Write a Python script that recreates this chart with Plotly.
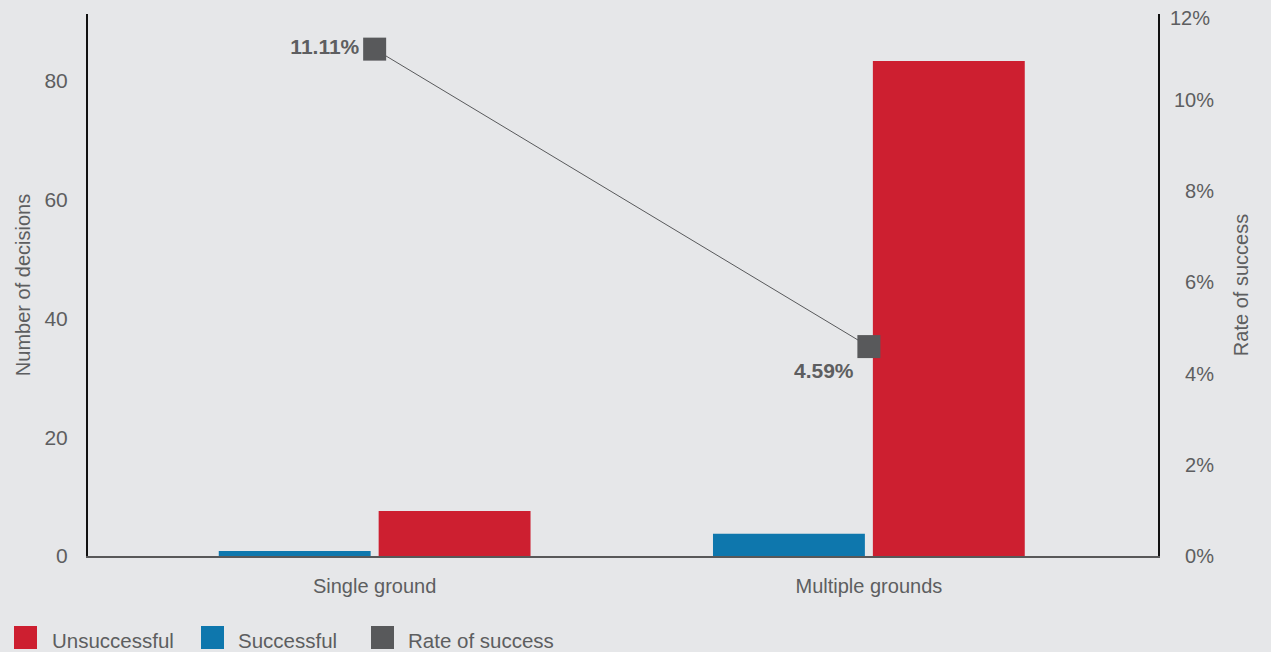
import plotly.graph_objects as go

# ---- data ----
categories = ["Single ground", "Multiple grounds"]
successful = [0.85, 3.75]
unsuccessful = [7.6, 83.4]
rate_of_success = [0.1111, 0.0459]
rate_labels = ["11.11%", "4.59%"]
left_ticks = [0, 20, 40, 60, 80]
right_ticks = [0, 0.02, 0.04, 0.06, 0.08, 0.10]
right_tick_text = ["\u20070%", "\u20072%", "\u20074%", "\u20076%", "\u20078%", "10%"]
legend_names = ["Unsuccessful", "Successful", "Rate of success"]

RED = "#CD1F30"
BLUE = "#0E77AD"
GREY = "#58595B"
BG = "#E6E7E9"
TXT = "#5D5E60"
FONT = "Liberation Sans, Arial, sans-serif"

W, H = 1271, 652
L, R, T, B = 88, 1158, 14, 556


def px(x):
    return (x - L) / (R - L)


def py(y):
    return (B - y) / (B - T)


fig = go.Figure()
fig.add_trace(go.Bar(x=categories, y=successful, name="Successful",
                     marker=dict(color=BLUE, line=dict(width=0)), showlegend=False))
fig.add_trace(go.Bar(x=categories, y=unsuccessful, name="Unsuccessful",
                     marker=dict(color=RED, line=dict(width=0)), showlegend=False))
fig.add_trace(go.Scatter(x=categories, y=rate_of_success, name="Rate of success",
                         yaxis="y2", mode="lines+markers+text",
                         line=dict(color=GREY, width=1),
                         marker=dict(symbol="square", size=23, color=GREY),
                         text=rate_labels,
                         textposition=["middle left", "bottom left"],
                         textfont=dict(family=FONT, size=21, color=TXT, weight="bold"),
                         showlegend=False, cliponaxis=False))

annotations = [
    dict(text="12%", xref="paper", yref="paper", x=px(1168), y=py(18),
         xanchor="left", yanchor="middle", showarrow=False,
         font=dict(family=FONT, size=20, color=TXT)),
]
shapes = []
legend_items = [(legend_names[0], RED, 14, 50), (legend_names[1], BLUE, 201, 236),
                (legend_names[2], GREY, 371, 406)]
for name, col, sx, tx in legend_items:
    shapes.append(dict(type="rect", xref="paper", yref="paper",
                       x0=px(sx), x1=px(sx + 23), y0=py(626), y1=py(649),
                       fillcolor=col, line=dict(width=0)))
    annotations.append(dict(text=name, xref="paper", yref="paper", x=px(tx), y=py(640),
                            xanchor="left", yanchor="middle", showarrow=False,
                            font=dict(family=FONT, size=20.5, color=TXT)))

fig.update_layout(
    width=W, height=H,
    margin=dict(l=L, r=W - R, t=T, b=H - B, pad=0),
    paper_bgcolor=BG, plot_bgcolor=BG,
    font=dict(family=FONT, size=20, color=TXT),
    barmode="group", bargap=0.353, bargroupgap=0.05,
    showlegend=False,
    xaxis=dict(range=[-0.58, 1.585], showgrid=False, zeroline=False,
               showline=True, linecolor="rgba(0,0,0,0.62)", linewidth=2,
               ticks="", ticklabelstandoff=11,
               tickfont=dict(family=FONT, size=20, color=TXT)),
    yaxis=dict(range=[0, 91.3], tickvals=left_ticks, showgrid=False, zeroline=False,
               showline=True, linecolor="#111111", linewidth=2, ticks="",
               ticklabelstandoff=14,
               tickfont=dict(family=FONT, size=21, color=TXT),
               title=dict(text="Number of decisions", standoff=8,
                          font=dict(family=FONT, size=20, color=TXT))),
    yaxis2=dict(overlaying="y", side="right", range=[0, 0.1188],
                tickvals=right_ticks, ticktext=right_tick_text,
                showgrid=False, zeroline=False, showline=True,
                linecolor="#111111", linewidth=2, ticks="", ticklabelstandoff=10,
                tickfont=dict(family=FONT, size=20, color=TXT),
                title=dict(text="Rate of success", standoff=21,
                           font=dict(family=FONT, size=20, color=TXT))),
    annotations=annotations, shapes=shapes,
)

fig.write_html("out.html",
               config={"displayModeBar": False},
               post_script="document.body.style.margin='0';document.body.style.overflow='hidden';")
